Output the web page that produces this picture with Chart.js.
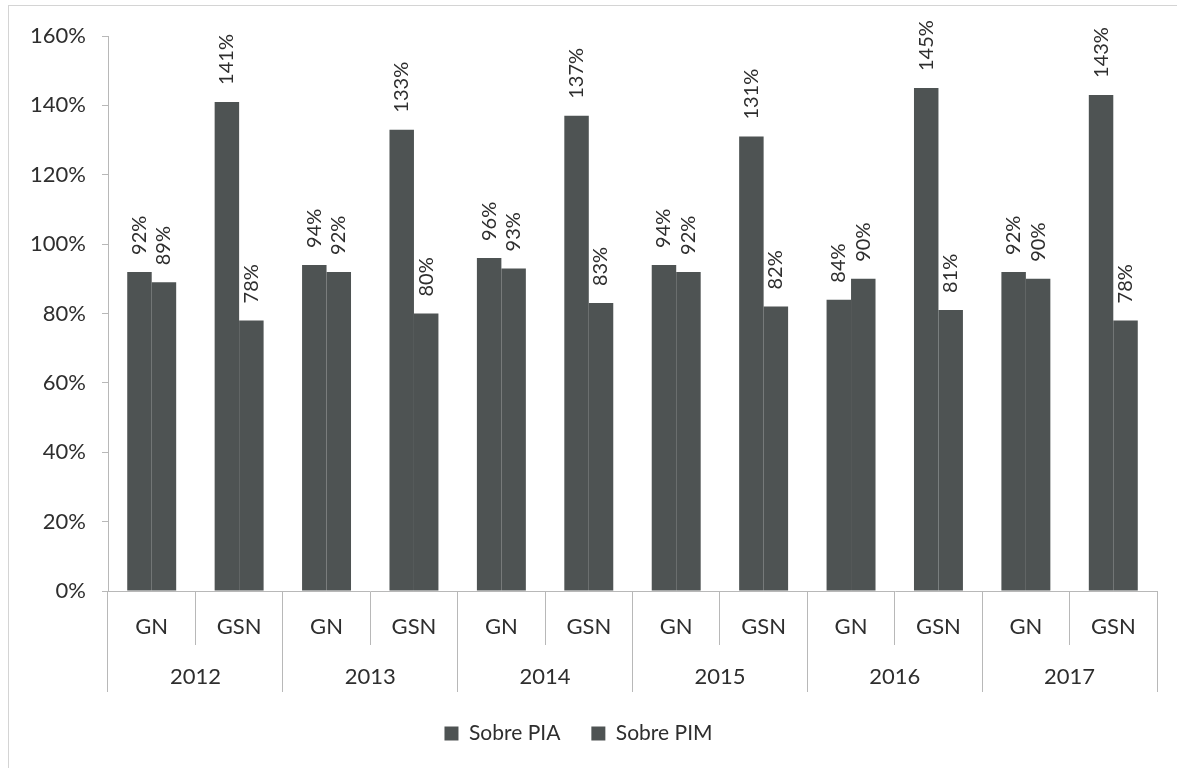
<!DOCTYPE html>
<html>
<head>
<meta charset="utf-8">
<script src="https://cdn.jsdelivr.net/npm/chart.js@4.4.1/dist/chart.umd.min.js"></script>
<style>
  html, body { margin: 0; padding: 0; background: #fff; }
  #frame { position: absolute; left: 8px; top: 5px; width: 1200px; height: 800px; border: 1px solid #d4d4d4; }
  #wrap { position: absolute; left: 0; top: 0; width: 1177px; height: 768px; }
</style>
</head>
<body>
<div id="frame"></div>
<div id="wrap"><canvas id="chart"></canvas></div>
<script>
// ── DATA ──
const years    = ['2012', '2013', '2014', '2015', '2016', '2017'];
const groups   = ['GN', 'GSN', 'GN', 'GSN', 'GN', 'GSN', 'GN', 'GSN', 'GN', 'GSN', 'GN', 'GSN'];
const sobrePIA = [92, 141, 94, 133, 96, 137, 94, 131, 84, 145, 92, 143];
const sobrePIM = [89, 78, 92, 80, 93, 83, 92, 82, 90, 81, 90, 78];
const yTicks   = [0, 20, 40, 60, 80, 100, 120, 140, 160];

const BAR  = '#4e5353';
const TEXT = '#2e2e2e';
const LINE = '#b8b8b8';
const FONT = 'Lato, "Open Sans", sans-serif';

// ── ROTATED VALUE LABELS ──
const valueLabels = {
  id: 'valueLabels',
  afterDatasetsDraw(chart) {
    const ctx = chart.ctx;
    ctx.save();
    ctx.font = '20px ' + FONT;
    ctx.fillStyle = TEXT;
    ctx.textAlign = 'left';
    ctx.textBaseline = 'middle';
    chart.data.datasets.forEach((ds, i) => {
      chart.getDatasetMeta(i).data.forEach((bar, j) => {
        ctx.save();
        ctx.translate(bar.x, bar.y - 17);
        ctx.rotate(-Math.PI / 2);
        ctx.fillText(ds.data[j] + '%', 0, 0);
        ctx.restore();
      });
    });
    ctx.restore();
  }
};

new Chart(document.getElementById('chart'), {
  type: 'bar',
  data: {
    labels: groups,
    datasets: [
      { label: 'Sobre PIA', data: sobrePIA, backgroundColor: BAR },
      { label: 'Sobre PIM', data: sobrePIM, backgroundColor: BAR }
    ]
  },
  options: {
    responsive: true,
    maintainAspectRatio: false,
    animation: false,
    categoryPercentage: 0.56,
    barPercentage: 1.0,
    layout: { padding: { top: 36, right: 20, left: 0, bottom: 14 } },
    plugins: {
      legend: {
        position: 'bottom',
        labels: { font: { family: FONT, size: 21 }, color: TEXT, boxWidth: 14, boxHeight: 14, padding: 31 }
      },
      tooltip: { enabled: false }
    },
    scales: {
      y: {
        min: 0,
        max: 160,
        afterBuildTicks(scale) { scale.ticks = yTicks.map(v => ({ value: v })); },
        afterFit(scale) { scale.width = 108; },
        ticks: {
          callback: v => v + '%',
          font: { family: FONT, size: 22 },
          color: TEXT,
          padding: 16
        },
        grid: { drawOnChartArea: false, tickLength: 6, color: LINE },
        border: { color: LINE }
      },
      x: {
        weight: 0,
        afterFit(scale) { scale.height = 54; },
        ticks: { font: { family: FONT, size: 22 }, color: TEXT, padding: -31, maxRotation: 0, autoSkip: false },
        grid: { offset: true, drawOnChartArea: false, tickLength: 54, color: LINE },
        border: { color: LINE }
      },
      x2: {
        type: 'category',
        labels: years,
        position: 'bottom',
        weight: 1,
        offset: true,
        afterFit(scale) { scale.height = 47; },
        ticks: { font: { family: FONT, size: 22 }, color: TEXT, padding: -28, maxRotation: 0, autoSkip: false },
        grid: { offset: true, drawOnChartArea: false, tickLength: 47, color: LINE },
        border: { display: false }
      }
    }
  },
  plugins: [valueLabels]
});
</script>
</body>
</html>
